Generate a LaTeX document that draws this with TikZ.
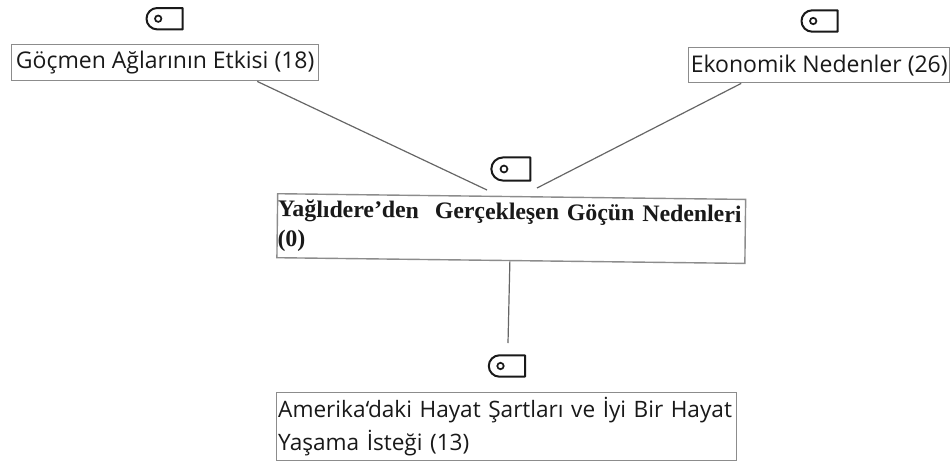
\documentclass[tikz,border=0pt]{standalone}
\usepackage{fontspec}
\setmainfont{Open Sans}
\newfontfamily\baslikfont{Liberation Serif}
\usetikzlibrary{calc}

\begin{document}
\begin{tikzpicture}[
    x=1pt, y=1pt,
    font=\fontsize{23}{33}\selectfont,
    kutu/.style={draw=black!45, line width=1.4pt, inner sep=1pt, anchor=north west, align=left, text=black!90},
    baglanti/.style={draw=black!60, line width=1.2pt},
    etiket/.pic={
        \draw[line width=2pt, black!90, line join=round] (18,-10.7) -- (18,10.7) -- (-7.5,10.7)
            arc[start angle=90, end angle=270, radius=10.7pt] -- cycle;
        \draw[line width=1.7pt, black!90] (-6.5,0) circle (3.2pt);
    }
]

    \useasboundingbox (0,0) rectangle (950,-461);

    % --- Main Boxes ---
    \node[kutu, minimum width=307pt, minimum height=36pt] (gocmen) at (11,-44) {Göçmen Ağlarının Etkisi (18)};
    \node[kutu, minimum width=261pt, minimum height=35pt] (ekonomik) at (688,-47) {Ekonomik Nedenler (26)};
    \node[kutu, rotate=-0.7, minimum width=468pt, minimum height=64pt, text width=465pt,
          font=\baslikfont\bfseries\fontsize{23.8}{30}\selectfont] (nedenler) at (277,-193)
        {\hspace{-1pt}Yağlıdere’den\ \ Gerçekleşen Göçün Nedenleri\\\hspace{-1pt}(0)};
    \node[kutu, minimum width=460pt, minimum height=68pt, text width=457pt,
          font=\fontsize{22.6}{33}\selectfont] (amerika) at (276,-392)
        {Amerika‘daki Hayat Şartları ve İyi Bir Hayat\\Yaşama İsteği (13)};

    % --- Tag Icons ---
    \pic (etiket1) at (164.7,-18.7) {etiket};
    \pic (etiket2) at (819.7,-21) {etiket};
    \pic[scale=1.08] (etiket3) at (511,-169) {etiket};
    \pic (etiket4) at (507,-366) {etiket};

    % --- Connectors ---
    % free ends stop short of the middle box
    \coordinate (uc1) at (487,-190);
    \coordinate (uc2) at (537,-188);
    \coordinate (uc3) at (508,-343);
    \draw[baglanti] ([xshift=92pt]gocmen.south) -- (uc1);
    \draw[baglanti] ([xshift=-78pt]ekonomik.south) -- (uc2);
    \draw[baglanti] ([xshift=-1pt]nedenler.south) -- (uc3);

\end{tikzpicture}
\end{document}
